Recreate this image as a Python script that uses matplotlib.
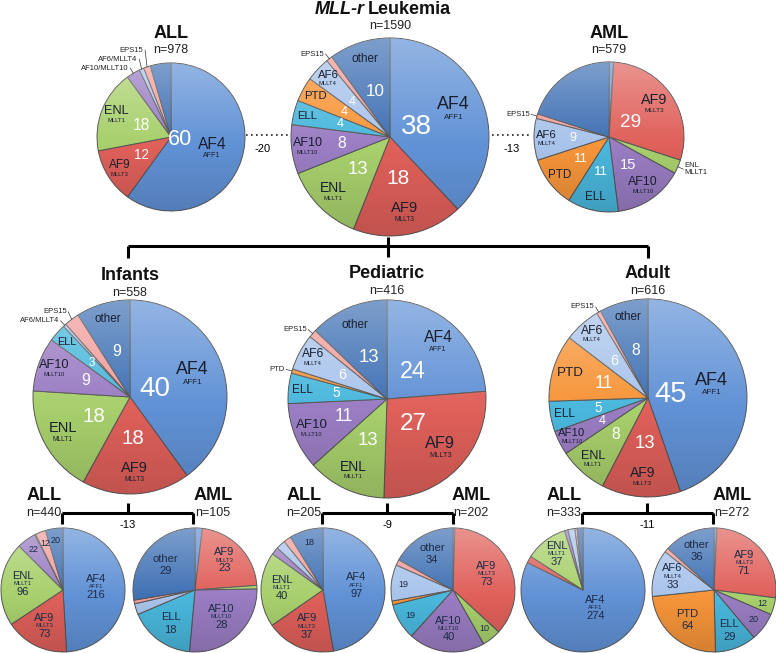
import numpy as np
import matplotlib.pyplot as plt
from matplotlib.patches import Circle

plt.rcParams['font.family'] = ['Liberation Sans', 'DejaVu Sans']

W, H = 776, 653

genes = ['AF4', 'AF9', 'ENL', 'AF10', 'ELL', 'PTD', 'AF6', 'EPS15', 'other']
aliases = ['AFF1', 'MLLT3', 'MLLT1', 'MLLT10', '', '', 'MLLT4', '', '']
colors = ['#6192d6', '#e0605a', '#a8d06c', '#9a7dc3', '#4ab8dd', '#f7953a',
          '#a9c4eb', '#f19e9c', '#4071b4']

# percent of patients per partner gene
mll_pct = [38, 18, 13, 8, 4, 4, 4, 1, 10]
all_pct = [60, 12, 18, 3, 0, 0, 1, 1.5, 4.5]
aml_pct = [1, 29, 3, 15, 11, 11, 9, 1, 20]
infant_pct = [40, 18, 18, 9, 3, 0, 0.5, 2.5, 9]
pediatric_pct = [24, 27, 13, 11, 5, 0.7, 6, 1.3, 13]
adult_pct = [45, 13, 8, 4, 5, 11, 6, 0.7, 8]

# patient counts per partner gene
infant_all_n = [216, 73, 96, 22, 0, 0, 1, 12, 20]
infant_aml_n = [2, 23, 1, 28, 18, 0, 3, 1, 29]
pediatric_all_n = [97, 37, 40, 4, 0, 0, 5, 4, 18]
pediatric_aml_n = [1, 73, 10, 40, 19, 2, 19, 3, 34]
adult_all_n = [274, 6, 37, 3, 0, 0, 6, 2, 5]
adult_aml_n = [2, 71, 12, 20, 29, 64, 33, 3, 36]

totals = {'mll': 1590, 'all': 978, 'aml': 579, 'inf': 558, 'ped': 416, 'adu': 616,
          'inf_all': 440, 'inf_aml': 105, 'ped_all': 205, 'ped_aml': 202,
          'adu_all': 333, 'adu_aml': 272}
diffs = {'top_left': '-20', 'top_right': '-13', 'inf': '-13', 'ped': '-9', 'adu': '-11'}

DARK = '#1d2b47'

fig = plt.figure(figsize=(7.76, 6.53), dpi=100)
ax = fig.add_axes([0, 0, 1, 1])


def Y(y):
    return H - y


def shade(cx, cy, r):
    n = 80
    t = np.linspace(0, 1, n)[:, None] * np.ones((1, n))
    img = np.zeros((n, n, 4))
    light = t < 0.55
    img[..., :3] = np.where(light[..., None], 1.0, 0.0)
    img[..., 3] = np.where(light, 0.32 * (1 - t / 0.55), 0.14 * (t - 0.55) / 0.45)
    im = ax.imshow(img, extent=(cx - r, cx + r, cy - r, cy + r), zorder=1.5,
                   interpolation='bilinear')
    im.set_clip_path(Circle((cx, cy), r, transform=ax.transData))


def wedges_for(vals, cx, cy, r):
    vals = np.asarray(vals, float)
    keep = np.nonzero(vals > 0)[0]
    wedges, _ = ax.pie(vals[keep], colors=[colors[i] for i in keep], startangle=90,
                       counterclock=False, center=(cx, cy), radius=r, frame=True,
                       wedgeprops=dict(edgecolor='#555555', linewidth=0.7))
    shade(cx, cy, r)
    out = []
    for w, i in zip(wedges, keep):
        mid = np.deg2rad((w.theta1 + w.theta2) / 2)
        out.append((i, vals[i], np.cos(mid), np.sin(mid)))
    return out


def pct_pie(vals, cx, py, r, hide=(), outside=(), out_text=None):
    cy = Y(py)
    sc = r / 99.0
    out_text = out_text or {}
    last_y = None
    for i, v, ux, uy in wedges_for(vals, cx, cy, r):
        g = genes[i]
        if g in hide:
            continue
        if g in outside:
            ex, ey = cx + r * ux, cy + r * uy
            tx, ty = ex + 6 * ux, ey + 6 * uy
            if last_y is not None and ux < 0 and ty < last_y + 9:
                ty = last_y + 9
            last_y = ty
            ax.plot([ex, tx], [ey, ty], color='#333333', lw=0.5, zorder=3)
            ax.text(tx + (-1.5 if ux < 0 else 1.5), ty, out_text.get(g, g),
                    ha='right' if ux < 0 else 'left', va='center', fontsize=5.5,
                    color='#222222', zorder=4, linespacing=0.9)
            continue
        fn = np.clip(0.88 - 0.005 * v, 0.55, 0.88)
        fs = np.clip(6 + 1.1 * np.sqrt(v), 6.5, 13) * sc ** 0.5
        if g == 'other':
            fs = 8.5 * sc ** 0.5
        nx, ny = cx + fn * r * ux, cy + fn * r * uy
        if aliases[i]:
            ax.annotate(g, (nx, ny), xytext=(0, -1), textcoords='offset points',
                        ha='center', va='bottom', fontsize=fs, color='#1a1f2e', zorder=4)
            ax.annotate(aliases[i], (nx, ny), xytext=(0, -1.5), textcoords='offset points',
                        ha='center', va='top', fontsize=max(4.2, 0.45 * fs),
                        color='#1a1f2e', zorder=4)
        else:
            ax.text(nx, ny, g, ha='center', va='center', fontsize=fs,
                    color='#1a1f2e', zorder=4)
        fnum = np.clip(0.55 - 0.007 * v, 0.12, 0.55)
        nfs = min((4 + 2.6 * np.sqrt(v)) * sc, 21 * sc)
        ax.text(cx + fnum * r * ux, cy + fnum * r * uy, f'{v:g}', ha='center',
                va='center', fontsize=nfs, color='white', zorder=4)


def count_pie(vals, cx, py, r):
    cy = Y(py)
    total = float(np.sum(vals))
    for i, v, ux, uy in wedges_for(vals, cx, cy, r):
        frac = v / total
        g = genes[i]
        if frac >= 0.1:
            f = 0.75 - 0.45 * frac
            x, y = cx + f * r * ux, cy + f * r * uy
            if aliases[i]:
                ax.annotate(g, (x, y), xytext=(0, 3.5), textcoords='offset points',
                            ha='center', va='bottom', fontsize=8, color=DARK, zorder=4)
                ax.annotate(aliases[i], (x, y), xytext=(0, -0.3), textcoords='offset points',
                            ha='center', va='bottom', fontsize=4.2, color=DARK, zorder=4)
                ax.annotate(f'{v:g}', (x, y), xytext=(0, -1), textcoords='offset points',
                            ha='center', va='top', fontsize=8, color=DARK, zorder=4)
            else:
                ax.annotate(g, (x, y), xytext=(0, 1), textcoords='offset points',
                            ha='center', va='bottom', fontsize=8, color=DARK, zorder=4)
                ax.annotate(f'{v:g}', (x, y), xytext=(0, -1), textcoords='offset points',
                            ha='center', va='top', fontsize=8, color=DARK, zorder=4)
        elif v >= 10:
            x, y = cx + 0.8 * r * ux, cy + 0.8 * r * uy
            ax.text(x, y, f'{v:g}', ha='center', va='center', fontsize=6.5,
                    color=DARK, zorder=4)


def title(x, y, text, n, size=13, dn=17):
    ax.text(x, Y(y), text, ha='center', va='center', fontsize=size,
            fontweight='bold', color='#111111')
    ax.text(x, Y(y + dn), f'n={n}', ha='center', va='center', fontsize=9,
            color='#222222')


# top row
pct_pie(all_pct, 171, 137, 74, hide=('other',), outside=('AF10', 'AF6', 'EPS15'),
        out_text={'AF10': 'AF10/MLLT10', 'AF6': 'AF6/MLLT4'})
pct_pie(mll_pct, 390, 137, 99, outside=('EPS15',))
pct_pie(aml_pct, 609, 137, 75, hide=('AF4', 'other'), outside=('ENL', 'EPS15'),
        out_text={'ENL': 'ENL\nMLLT1'})

ax.text(365, Y(10), 'MLL-r', ha='right', va='center', fontsize=13,
        fontweight='bold', fontstyle='italic', color='#111111')
ax.text(368, Y(10), 'Leukemia', ha='left', va='center', fontsize=13,
        fontweight='bold', color='#111111')
ax.text(390, Y(26), f"n={totals['mll']}", ha='center', va='center', fontsize=9,
        color='#222222')
title(171, 33, 'ALL', totals['all'])
title(609, 33, 'AML', totals['aml'])

ax.plot([246, 288], [Y(135), Y(135)], color='#222222', lw=1.2, ls=(0, (1, 2)))
ax.plot([492, 532], [Y(135), Y(135)], color='#222222', lw=1.2, ls=(0, (1, 2)))
ax.text(263, Y(149), diffs['top_left'], ha='center', va='center', fontsize=8)
ax.text(512, Y(149), diffs['top_right'], ha='center', va='center', fontsize=8)

# hierarchy bracket
lk = dict(color='black', lw=2.2, solid_capstyle='butt', zorder=2)
ax.plot([128, 648], [Y(246), Y(246)], **lk)
ax.plot([128, 128], [Y(246), Y(258)], **lk)
ax.plot([648, 648], [Y(246), Y(258)], **lk)
ax.plot([388, 388], [Y(237), Y(257)], **lk)

# middle row
pct_pie(infant_pct, 130, 397, 97, outside=('AF6', 'EPS15'),
        out_text={'AF6': 'AF6/MLLT4'})
pct_pie(pediatric_pct, 387, 399, 99, outside=('PTD', 'EPS15'))
pct_pie(adult_pct, 648, 398, 99, outside=('EPS15',))
title(130, 275, 'Infants', totals['inf'], dn=18)
title(387, 273, 'Pediatric', totals['ped'], dn=18)
title(648, 273, 'Adult', totals['adu'], dn=18)

# bottom row
groups = [
    (infant_all_n, infant_aml_n, 63, 195, 62, 193, 128, 'inf'),
    (pediatric_all_n, pediatric_aml_n, 323, 453, 322, 453, 387, 'ped'),
    (adult_all_n, adult_aml_n, 583, 714, 582, 713, 647, 'adu'),
]
for a_vals, m_vals, xa, xm, bl, br, bc, key in groups:
    count_pie(a_vals, xa, 590, 62)
    count_pie(m_vals, xm, 590, 62)
    ax.plot([bl, br], [Y(513), Y(513)], **lk)
    ax.plot([bl, bl], [Y(513), Y(524)], **lk)
    ax.plot([br, br], [Y(513), Y(524)], **lk)
    ax.plot([bc, bc], [Y(503), Y(513)], **lk)
    ax.text(bc, Y(525), diffs[key], ha='center', va='center', fontsize=8)
    title(xa - 19, 496, 'ALL', totals[key + '_all'], size=13, dn=17)
    title(xm + 18, 496, 'AML', totals[key + '_aml'], size=13, dn=17)

ax.set_xlim(0, W)
ax.set_ylim(0, H)
ax.set_aspect('equal')
ax.axis('off')
fig.savefig('out.png', dpi=100)
